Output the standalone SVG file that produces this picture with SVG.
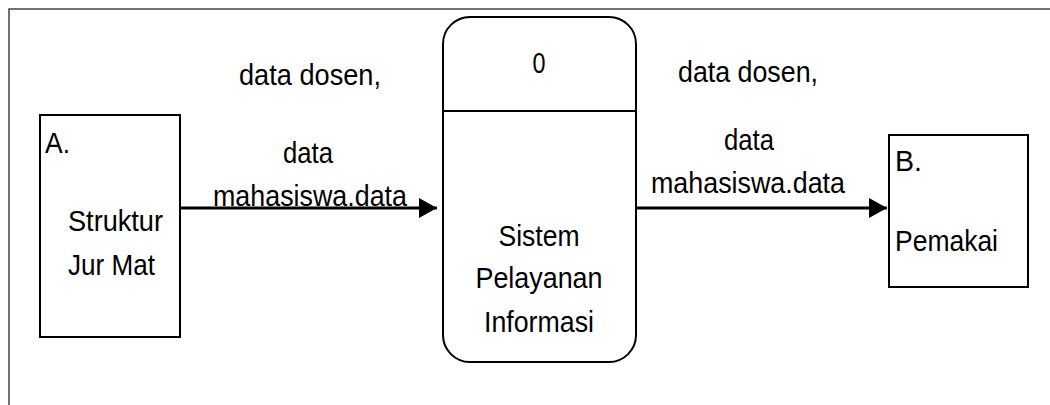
<svg xmlns="http://www.w3.org/2000/svg" width="1050" height="405" viewBox="0 0 1050 405">
  <defs>
    <style>
      .t { font-family: "Liberation Sans", Arial, sans-serif; font-size: 29px; fill: #000; }
      .c { text-anchor: middle; }
      .box { fill: #fff; stroke: #000; stroke-width: 2; }
      .frame { fill: none; stroke: #444; stroke-width: 1.5; }
      .flow { fill: none; stroke: #000; stroke-width: 3; }
    </style>
    <marker id="arrow" viewBox="0 0 18 20" refX="18" refY="10" markerWidth="18" markerHeight="20" markerUnits="userSpaceOnUse" orient="auto">
      <path d="M0,0 L18,10 L0,20 Z" fill="#000"/>
    </marker>
  </defs>
  <rect width="1050" height="405" fill="#fff"/>
  <path class="frame" d="M9,405 L9,9 L1050,9"/>

  <g id="connectors">
    <line class="flow" x1="181" y1="208" x2="437" y2="208" marker-end="url(#arrow)"/>
    <line class="flow" x1="636" y1="208" x2="887" y2="208" marker-end="url(#arrow)"/>
    <text class="t c" x="310" y="85" textLength="142" lengthAdjust="spacingAndGlyphs">data dosen,</text>
    <text class="t c" x="308" y="163" textLength="50" lengthAdjust="spacingAndGlyphs">data</text>
    <text class="t c" x="310" y="206" textLength="194" lengthAdjust="spacingAndGlyphs">mahasiswa.data</text>
    <text class="t c" x="748" y="82" textLength="140" lengthAdjust="spacingAndGlyphs">data dosen,</text>
    <text class="t c" x="749" y="150" textLength="50" lengthAdjust="spacingAndGlyphs">data</text>
    <text class="t c" x="748" y="193" textLength="194" lengthAdjust="spacingAndGlyphs">mahasiswa.data</text>
  </g>

  <g id="node-a">
    <rect class="box" x="40" y="115" width="140" height="222"/>
    <text class="t" x="45" y="153" textLength="25" lengthAdjust="spacingAndGlyphs">A.</text>
    <text class="t" x="68" y="231" textLength="95" lengthAdjust="spacingAndGlyphs">Struktur</text>
    <text class="t" x="68" y="275" textLength="87" lengthAdjust="spacingAndGlyphs">Jur Mat</text>
  </g>

  <g id="node-0">
    <rect class="box" x="443" y="17" width="193" height="345" rx="27" ry="27"/>
    <line x1="443" y1="111" x2="636" y2="111" stroke="#000" stroke-width="2"/>
    <text class="t c" x="539" y="73" textLength="13" lengthAdjust="spacingAndGlyphs">0</text>
    <text class="t c" x="539" y="246" textLength="81" lengthAdjust="spacingAndGlyphs">Sistem</text>
    <text class="t c" x="539" y="288" textLength="127" lengthAdjust="spacingAndGlyphs">Pelayanan</text>
    <text class="t c" x="539" y="332" textLength="110" lengthAdjust="spacingAndGlyphs">Informasi</text>
  </g>

  <g id="node-b">
    <rect class="box" x="889" y="135" width="139" height="152"/>
    <text class="t" x="895" y="171" textLength="27" lengthAdjust="spacingAndGlyphs">B.</text>
    <text class="t" x="895" y="251" textLength="103" lengthAdjust="spacingAndGlyphs">Pemakai</text>
  </g>
</svg>
